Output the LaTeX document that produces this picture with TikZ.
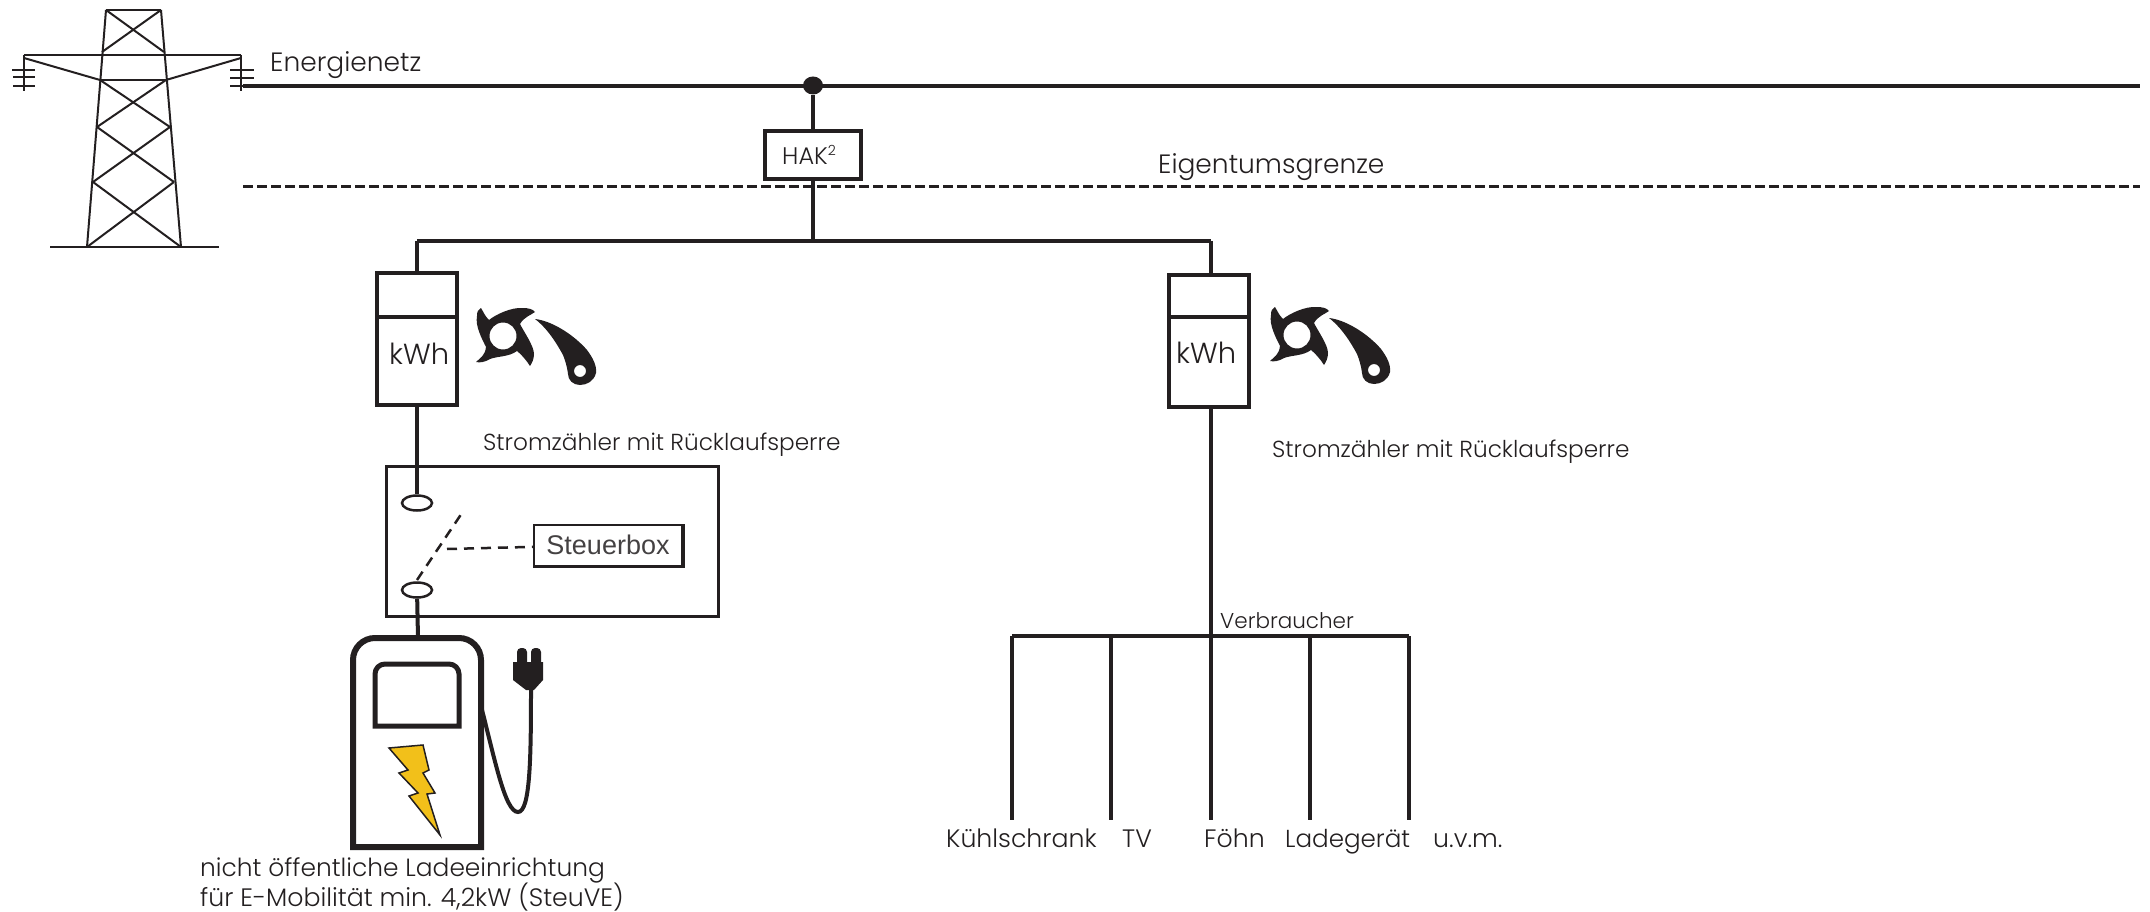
\documentclass[tikz,border=0pt]{standalone}
\usepackage{fontspec}
\setmainfont{Poppins}[UprightFont=* Light]
\newfontfamily\boxfont{Liberation Sans}
\usetikzlibrary{positioning,shapes.geometric}
\definecolor{inkdark}{HTML}{231F20}
\definecolor{boltyellow}{HTML}{F2C01A}

\begin{document}
\begin{tikzpicture}[
	x=1pt, y=-1pt,
	mast/.style={draw=inkdark, line width=2pt},
	wire/.style={draw=inkdark, line width=4pt},
	dashwire/.style={draw=inkdark, line width=3.5pt, dash pattern=on 10pt off 4pt},
	switchdash/.style={draw=inkdark, line width=2.5pt, dash pattern=on 10pt off 7pt},
	box/.style={rectangle, draw=inkdark, line width=4pt, fill=white, inner sep=0pt},
	contact/.style={ellipse, draw=inkdark, line width=2.5pt, fill=white, minimum width=30pt, minimum height=15pt, inner sep=0pt},
	caption/.style={anchor=base west, inner sep=0pt, text=inkdark, font=\fontsize{25.2}{30}\selectfont},
	headcaption/.style={caption, font=\fontsize{26.5}{32}\selectfont},
	smallcaption/.style={caption, font=\fontsize{23.2}{28}\selectfont},
	ratchet/.pic={
		\fill[inkdark, even odd rule] (-22,-28) .. controls (-19,-23) and (-18,-20) .. (-14,-16)
		.. controls (-8,-21) and (8,-29) .. (20,-28)
		.. controls (25,-28) and (30,-27) .. (32,-24)
		.. controls (28,-21) and (21,-19) .. (17,-12)
		.. controls (21,-4) and (31,10) .. (31,18)
		.. controls (31,23) and (29,27) .. (27,30)
		.. controls (24,25) and (18,18) .. (14,15)
		.. controls (6,21) and (-5,20) .. (-13,23)
		.. controls (-18,26) and (-23,27) .. (-27,26)
		.. controls (-23,22) and (-18,20) .. (-17,11)
		.. controls (-21,3) and (-28,-10) .. (-26,-20)
		.. controls (-26,-24) and (-25,-27) .. (-22,-28) -- cycle
		(13.5,0) arc[start angle=0, end angle=360, radius=13.5];
		\fill[inkdark, even odd rule] (32,-17) .. controls (50,-15) and (72,0) .. (84,14)
		.. controls (90,22) and (94,30) .. (93,37)
		.. controls (91,45) and (84,49) .. (77,49)
		.. controls (70,49) and (65,44) .. (65,38)
		.. controls (64,30) and (62,24) .. (60,19)
		.. controls (54,8) and (45,-7) .. (32,-17) -- cycle
		(83,35) arc[start angle=0, end angle=360, radius=6];
	},
	]
	\useasboundingbox (0,0) rectangle (2150,912);
	%Mast
	\draw[mast] (106,10) -- (161,10);
	\draw[mast] (106,10) -- (87,247);
	\draw[mast] (161,10) -- (181,247);
	\draw[mast] (106,10) -- (164,52);
	\draw[mast] (161,10) -- (102,52);
	\draw[mast] (24,55) -- (241,55);
	\draw[mast] (100,80) -- (166,80);
	\draw[mast] (24,58) -- (100,80);
	\draw[mast] (241,58) -- (166,80);
	\draw[mast] (100,80) -- (170,127);
	\draw[mast] (166,80) -- (97,127);
	\draw[mast] (97,127) -- (174,182);
	\draw[mast] (170,127) -- (93,182);
	\draw[mast] (93,182) -- (181,247);
	\draw[mast] (174,182) -- (87,247);
	\draw[wire, line width=2.5pt] (50,247) -- (219,247);
	%
	\draw[mast] (24,55) -- (24,91);
	\draw[mast] (12,70) -- (35,70);
	\draw[mast] (13,77) -- (35,77);
	\draw[mast] (13,86) -- (35,86);
	\draw[mast] (241,55) -- (241,91);
	\draw[mast] (230,70) -- (254,70);
	\draw[mast] (230,78) -- (254,78);
	\draw[mast] (230,86) -- (254,86);
	%Nodes
	\coordinate (gridW) at (243,86);
	\coordinate (gridE) at (2140,86);
	\coordinate (limitW) at (243,186.5);
	\coordinate (limitE) at (2140,186.5);
	\coordinate (busW) at (417,241);
	\coordinate (busM) at (813,241);
	\coordinate (busE) at (1211,241);
	\coordinate (loadM) at (1211,636);
	\node[ellipse, fill=inkdark, minimum width=20pt, minimum height=18pt, inner sep=0pt] (tap) at (813,85.5) {};
	\node[box, minimum width=96pt, minimum height=48pt] (hak) at (813,155) {};
	\node[box, minimum width=80pt, minimum height=132pt] (meterL) at (417,339) {};
	\node[box, minimum width=80pt, minimum height=132pt] (meterR) at (1209,340.5) {};
	\node[rectangle, draw=inkdark, line width=3.5pt, minimum width=332pt, minimum height=150pt, inner sep=0pt] (switchbox) at (552.5,541.5) {};
	\node[contact] (contactA) at (417,503) {};
	\node[contact] (contactB) at (417,590) {};
	\node[rectangle, draw=inkdark, line width=2pt, minimum width=148pt, minimum height=41pt, inner sep=0pt, text=inkdark!85, font=\boxfont\fontsize{27}{32}\selectfont] (steuerbox) at (608,545) {Steuerbox};
	\coordinate (bladeA) at (417,580);
	\coordinate (bladeB) at (462,513);
	\coordinate (bladeM) at (447,549);
	\coordinate (dropA) at (1012,636);
	\coordinate (dropB) at (1111,636);
	\coordinate (dropD) at (1310,636);
	\coordinate (dropE) at (1409,636);
	\coordinate (endA) at (1012,820);
	\coordinate (endB) at (1111,820);
	\coordinate (endC) at (1211,820);
	\coordinate (endD) at (1310,820);
	\coordinate (endE) at (1409,820);
	\coordinate (chargerTop) at (418,638);
	%Lines
	\draw[wire] (gridW) -- (gridE);
	\draw[dashwire] (limitW) -- (limitE);
	\draw[wire] (busW) -- (busE);
	\draw[wire] (tap) -- (hak);
	\draw[wire] (hak) -- (busM);
	\draw[wire] (busW) -- (meterL);
	\draw[wire] (busE) -- (busE |- meterR.north);
	\draw[wire] (meterL) -- (contactA);
	\draw[wire] (contactB) -- (chargerTop);
	\draw[wire] (busE |- meterR.south) -- (loadM);
	\draw[wire] (meterL.west |- 0,317) -- (meterL.east |- 0,317);
	\draw[wire] (meterR.west |- 0,317) -- (meterR.east |- 0,317);
	\draw[switchdash] (bladeA) -- (bladeB);
	\draw[switchdash] (bladeM) -- (steuerbox);
	\draw[wire, line width=3pt] (steuerbox.south west) -- (steuerbox.south east) -- (steuerbox.north east);
	%
	\draw[wire] (dropA) -- (dropE);
	\draw[wire, line width=3.5pt] (dropA) -- (endA);
	\draw[wire, line width=3.5pt] (dropB) -- (endB);
	\draw[wire, line width=3.5pt] (loadM) -- (endC);
	\draw[wire, line width=3.5pt] (dropD) -- (endD);
	\draw[wire, line width=3.5pt] (dropE) -- (endE);
	%Ratchets
	\pic at (503,336) {ratchet};
	\pic at (1297,335) {ratchet};
	%Charger
	\draw[inkdark, line width=6pt] (353,847) [rounded corners=22pt] -- (353,638) -- (481,638) [sharp corners] -- (481,847) -- cycle;
	\draw[inkdark, line width=5pt] (375,726) [rounded corners=10pt] -- (375,664) -- (459,664) [sharp corners] -- (459,726) -- cycle;
	\draw[inkdark, line width=1.5pt, fill=boltyellow] (389,748) -- (423,745) -- (429,770) -- (423,773) -- (435,793) -- (427,794) -- (440,835) -- (409,796) -- (418,793) -- (399,773) -- (408,770) -- cycle;
	\draw[inkdark, line width=4pt] (480,702) .. controls (495,760) and (505,812) .. (518,812) .. controls (530,812) and (531,760) .. (531,690);
	\fill[inkdark] (513,662) -- (543,662) -- (543,680) -- (534,690) -- (526,690) -- (513,680) -- cycle;
	\fill[inkdark, rounded corners=4pt] (517,666) -- (517,648) -- (527,648) -- (527,666) -- cycle;
	\fill[inkdark, rounded corners=4pt] (531,666) -- (531,648) -- (541,648) -- (541,666) -- cycle;
	%Labels
	\node[headcaption] (energienetz) at (270,72) {Energienetz};
	\node[headcaption] (eigentum) at (1158,174) {Eigentumsgrenze};
	\node[caption, font=\fontsize{24}{29}\selectfont] (haktext) at (782,165) {HAK\raisebox{0.75ex}{\fontsize{14}{16}\selectfont 2}};
	\node[caption, font=\fontsize{29}{34}\selectfont] (kwhL) at (389,364) {kWh};
	\node[caption, font=\fontsize{29}{34}\selectfont] (kwhR) at (1176,363) {kWh};
	\node[smallcaption] (zaehlerL) at (483,450) {Stromzähler mit Rücklaufsperre};
	\node[smallcaption] (zaehlerR) at (1272,457) {Stromzähler mit Rücklaufsperre};
	\node[caption, font=\fontsize{21.5}{26}\selectfont] (verbraucher) at (1220,628) {Verbraucher};
	\node[caption] (kuehl) at (946,847) {Kühlschrank};
	\node[caption] (tv) at (1122,847) {TV};
	\node[caption] (foehn) at (1204,847) {Föhn};
	\node[caption, font=\fontsize{24.6}{30}\selectfont] (lader) at (1285,847) {Ladegerät};
	\node[caption] (uvm) at (1433,847) {u.v.m.};
	\node[caption, font=\fontsize{24.9}{30}\selectfont] (ladeA) at (200,876) {nicht öffentliche Ladeeinrichtung};
	\node[caption] (ladeB) at (200,906) {für E-Mobilität min. 4,2kW (SteuVE)};
\end{tikzpicture}
\end{document}
